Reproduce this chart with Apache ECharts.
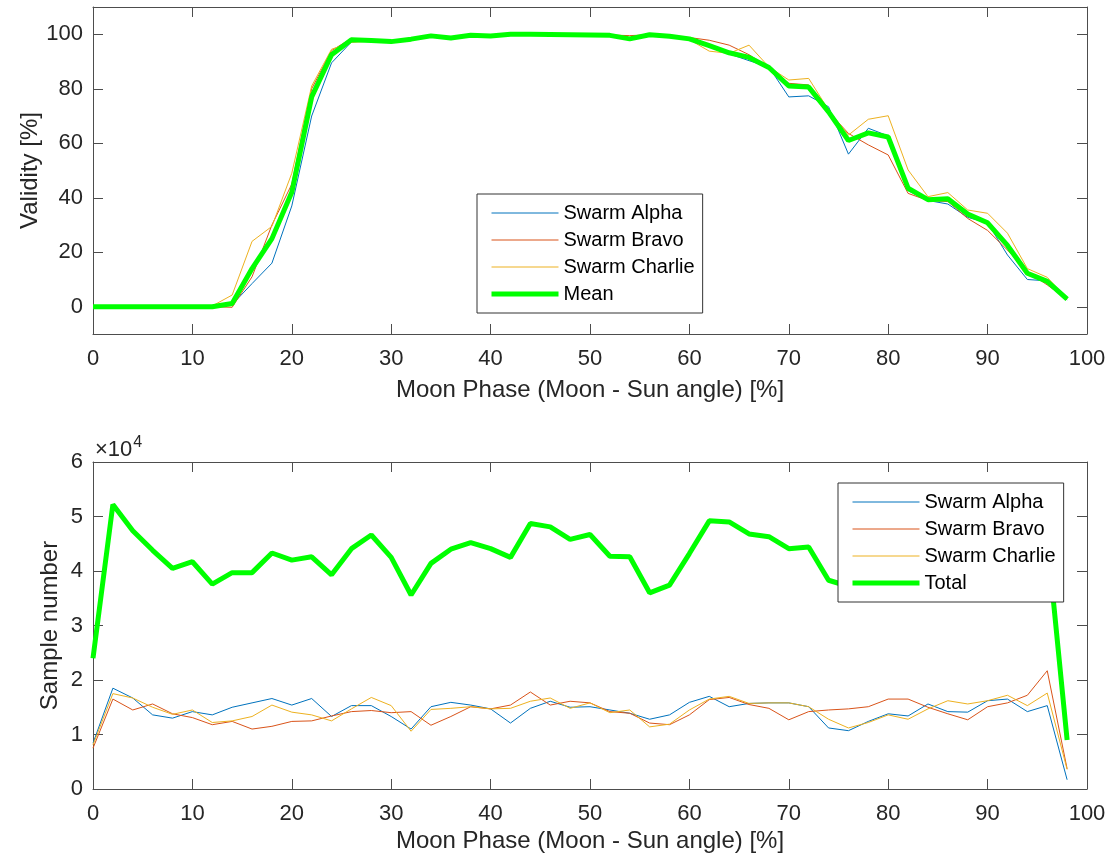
<!DOCTYPE html>
<html>
<head>
<meta charset="utf-8">
<title>Swarm validity and sample number vs Moon phase</title>
<script src="https://cdn.jsdelivr.net/npm/echarts@6/dist/echarts.min.js"></script>
<style>
  html, body { margin: 0; padding: 0; background: #fff; }
  #chart { width: 1109px; height: 862px; }
</style>
</head>
<body>
<div id="chart"></div>
<script>
// Moon phase bins (Moon - Sun angle, %)
const phase = [0, 2, 4, 6, 8, 10, 12, 14, 16, 18, 20, 22, 24, 26, 28, 30, 32, 34, 36, 38,
  40, 42, 44, 46, 48, 50, 52, 54, 56, 58, 60, 62, 64, 66, 68, 70, 72, 74, 76, 78,
  80, 82, 84, 86, 88, 90, 92, 94, 96, 98];

// Validity [%] per satellite and mean
const validityAlpha = [0, 0, 0, 0, 0, 0, 0, 0.8, 8.5, 16, 37, 70, 89.5, 97.2, 97.7, 97.2, 98, 99.3, 98.5, 99.5,
  99.3, 100, 99.9, 99.8, 99.7, 99.6, 99.5, 98.2, 99.7, 99.2, 98.2, 95.5, 92.8, 90.3, 88, 77, 77.4, 73.4, 56, 65.5,
  62.7, 42.6, 39, 37.7, 32.8, 30.8, 19, 10, 9.5, 2.5];
const validityBravo = [0, 0, 0, 0, 0, 0, 0, -0.2, 11, 30, 45, 80, 94, 98.5, 97.8, 97.5, 98.3, 99.4, 98.7, 99.6,
  99.4, 100, 100, 99.9, 99.9, 99.8, 99.7, 99.5, 99.8, 99.4, 98.8, 97.8, 96, 92.5, 88, 82, 81.4, 71.6, 63.6, 59.4,
  55.7, 41.6, 39, 38.6, 32.4, 28, 20.8, 12.9, 8, 2.7];
const validityCharlie = [0, 0, 0, 0, 0, 0, 0.3, 4.3, 24, 29.5, 49, 81, 94.5, 97, 97.5, 97.3, 98, 99.3, 98.5, 99.5,
  99.3, 100, 99.9, 99.9, 99.8, 99.7, 99.6, 98.5, 99.8, 99.3, 98, 93.8, 93, 96, 88, 83.2, 83.8, 72.2, 63, 68.8,
  70.1, 50.2, 40.4, 41.9, 35.5, 34.3, 27, 14, 10.8, 3];
const validityMean = [0, 0, 0, 0, 0, 0, 0, 1.2, 14, 25, 42, 77, 92.5, 98, 97.7, 97.3, 98.2, 99.4, 98.6, 99.6,
  99.4, 100, 100, 99.9, 99.8, 99.7, 99.6, 98.3, 99.8, 99.3, 98.3, 95.8, 93.2, 91.5, 87.8, 81, 80.6, 71.5, 61, 63.8,
  62.3, 43.5, 39.3, 39.6, 34, 30.8, 22.5, 12.3, 9.3, 2.8];

// Sample counts per satellite and total
const samplesAlpha = [8400, 18500, 16700, 13600, 13000, 14200, 13600, 15000, 15800, 16600, 15400, 16600, 13300, 15300, 15300, 13300, 11000, 15100, 15900, 15400,
  14700, 12100, 14800, 16100, 15000, 15100, 14500, 13900, 12800, 13600, 15900, 17000, 15100, 15700, 15800, 15800, 15100, 11200, 10700, 12400,
  13800, 13400, 15600, 14200, 14100, 16200, 16500, 14200, 15300, 1700];
const samplesBravo = [7500, 16500, 14500, 15600, 13800, 13100, 11800, 12400, 11000, 11500, 12400, 12500, 13400, 14200, 14400, 14000, 14200, 11700, 13300, 15100,
  14700, 15400, 17800, 15400, 16100, 15800, 14200, 13900, 12100, 11800, 13600, 16400, 16800, 15500, 14800, 12700, 14200, 14500, 14700, 15100,
  16500, 16500, 15000, 13800, 12700, 15100, 15800, 17200, 21700, 3700];
const samplesCharlie = [8100, 17500, 16700, 15000, 13700, 14500, 12200, 12500, 13300, 15400, 14100, 13600, 12500, 14700, 16800, 15300, 10600, 14600, 14800, 15100,
  14700, 14800, 16100, 16700, 14800, 15800, 14000, 14500, 11400, 11900, 14500, 16500, 17000, 15700, 15800, 15800, 15100, 12800, 11200, 12200,
  13600, 12800, 14700, 16200, 15600, 16200, 17200, 15300, 17600, 3600];
const samplesTotal = [24000, 52200, 47400, 43800, 40500, 41700, 37600, 39700, 39700, 43300, 42000, 42600, 39300, 44100, 46600, 42500, 35600, 41400, 44000, 45200,
  44100, 42500, 48700, 48100, 45800, 46700, 42700, 42600, 36000, 37400, 43200, 49200, 49000, 46800, 46300, 44100, 44400, 38300, 37200, 39800,
  43500, 42500, 45000, 44000, 42200, 47000, 49000, 46500, 46000, 9000];

// Axis tick values
const phaseTicks = [0, 10, 20, 30, 40, 50, 60, 70, 80, 90, 100];
const validityTicks = [0, 20, 40, 60, 80, 100];
const sampleTicks = [0, 10000, 20000, 30000, 40000, 50000, 60000];

const FONT = '"Liberation Sans", Arial, Helvetica, sans-serif';
const AXIS_COLOR = '#4d4d4d';
const LABEL_COLOR = '#262626';
const C_ALPHA = '#0072BD';
const C_BRAVO = '#D95319';
const C_CHARLIE = '#EDB120';
const C_GREEN = '#00FF00';
const THIN = 1;
const THICK = 5;

const pairs = (ys) => phase.map((x, i) => [x, ys[i]]);

function boxAxis(gridIndex, position, extra) {
  const showLabel = position === 'bottom' || position === 'left';
  return Object.assign({
    type: 'value',
    gridIndex: gridIndex,
    position: position,
    nameMoveOverlap: false,
    axisLine: { show: true, onZero: false, lineStyle: { color: AXIS_COLOR, width: 1 } },
    axisTick: { show: true, inside: true, length: 10, lineStyle: { color: AXIS_COLOR, width: 1 } },
    axisLabel: { show: showLabel, color: LABEL_COLOR, fontSize: 22, fontFamily: FONT },
    splitLine: { show: false },
    nameTextStyle: { color: LABEL_COLOR, fontSize: 24, fontFamily: FONT }
  }, extra);
}

function xPhase(gridIndex, position) {
  const named = position === 'bottom';
  return boxAxis(gridIndex, position, {
    min: 0, max: 100, interval: 10,
    name: named ? 'Moon Phase (Moon - Sun angle) [%]' : '',
    nameLocation: 'middle', nameGap: gridIndex === 0 ? 44 : 40,
    axisLabel: { show: named, color: LABEL_COLOR, fontSize: 22, fontFamily: FONT, margin: 14 },
    axisTick: { show: true, inside: true, length: 10, lineStyle: { color: AXIS_COLOR, width: 1 }, customValues: phaseTicks }
  });
}

function yValidity(position) {
  const named = position === 'left';
  return boxAxis(0, position, {
    min: -10, max: 110,
    name: named ? 'Validity [%]' : '',
    nameLocation: 'middle', nameGap: 51,
    axisTick: { show: true, inside: true, length: 10, lineStyle: { color: AXIS_COLOR, width: 1 }, customValues: validityTicks },
    axisLabel: { show: named, color: LABEL_COLOR, fontSize: 22, fontFamily: FONT, margin: 10, customValues: validityTicks }
  });
}

function ySamples(position) {
  const named = position === 'left';
  return boxAxis(1, position, {
    min: 0, max: 60000, interval: 10000,
    name: named ? 'Sample number' : '',
    nameLocation: 'middle', nameGap: 31,
    axisTick: { show: true, inside: true, length: 10, lineStyle: { color: AXIS_COLOR, width: 1 }, customValues: sampleTicks },
    axisLabel: { show: named, color: LABEL_COLOR, fontSize: 22, fontFamily: FONT, margin: 10, customValues: sampleTicks,
      formatter: (v) => String(v / 10000) }
  });
}

function line(name, data, color, width, xi, yi) {
  return {
    type: 'line', name: name, data: pairs(data),
    xAxisIndex: xi, yAxisIndex: yi,
    symbol: 'none', smooth: false, animation: false,
    lineStyle: { color: color, width: width },
    itemStyle: { color: color },
    z: width > 2 ? 3 : 2
  };
}

// legend entry drawn as a plain line sample (no marker)
function entry(name, color, width) {
  return { name: name, lineStyle: { color: color, width: width }, itemStyle: { opacity: 0 } };
}

function legendBox(left, top, entries) {
  return {
    orient: 'vertical', left: left, top: top,
    data: entries,
    backgroundColor: '#ffffff',
    borderColor: '#333333', borderWidth: 1, borderRadius: 0,
    padding: [9, 8, 9, 12],
    itemWidth: 67, itemHeight: 20, itemGap: 7,
    itemStyle: { opacity: 0 },
    textStyle: { color: '#000', fontSize: 20, fontFamily: FONT },
    selectedMode: false,
    z: 10
  };
}

const chart = echarts.init(document.getElementById('chart'), null, { renderer: 'canvas' });

chart.setOption({
  backgroundColor: '#ffffff',
  animation: false,
  grid: [
    { left: 93, right: 22, top: 7, height: 327 },
    { left: 93, right: 22, top: 462, height: 327 }
  ],
  xAxis: [xPhase(0, 'bottom'), xPhase(0, 'top'), xPhase(1, 'bottom'), xPhase(1, 'top')],
  yAxis: [yValidity('left'), yValidity('right'), ySamples('left'), ySamples('right')],
  legend: [
    legendBox(477, 194, [
      entry('Swarm Alpha', C_ALPHA, THIN), entry('Swarm Bravo', C_BRAVO, THIN),
      entry('Swarm Charlie', C_CHARLIE, THIN), entry('Mean', C_GREEN, THICK)
    ]),
    legendBox(838, 483, [
      entry('Swarm Alpha', C_ALPHA, THIN), entry('Swarm Bravo', C_BRAVO, THIN),
      entry('Swarm Charlie', C_CHARLIE, THIN), entry('Total', C_GREEN, THICK)
    ])
  ],
  graphic: [{
    type: 'text', left: 95, top: 435, z: 10,
    style: {
      text: '{a|×10}{b|4}',
      rich: {
        a: { fontSize: 22, fontFamily: FONT, fill: LABEL_COLOR, verticalAlign: 'bottom' },
        b: { fontSize: 16, fontFamily: FONT, fill: LABEL_COLOR, verticalAlign: 'top', padding: [0, 0, 10, 1] }
      }
    }
  }],
  series: [
    line('Swarm Alpha', validityAlpha, C_ALPHA, THIN, 0, 0),
    line('Swarm Bravo', validityBravo, C_BRAVO, THIN, 0, 0),
    line('Swarm Charlie', validityCharlie, C_CHARLIE, THIN, 0, 0),
    line('Mean', validityMean, C_GREEN, THICK, 0, 0),
    line('Swarm Alpha', samplesAlpha, C_ALPHA, THIN, 2, 2),
    line('Swarm Bravo', samplesBravo, C_BRAVO, THIN, 2, 2),
    line('Swarm Charlie', samplesCharlie, C_CHARLIE, THIN, 2, 2),
    line('Total', samplesTotal, C_GREEN, THICK, 2, 2)
  ]
});
</script>
</body>
</html>
